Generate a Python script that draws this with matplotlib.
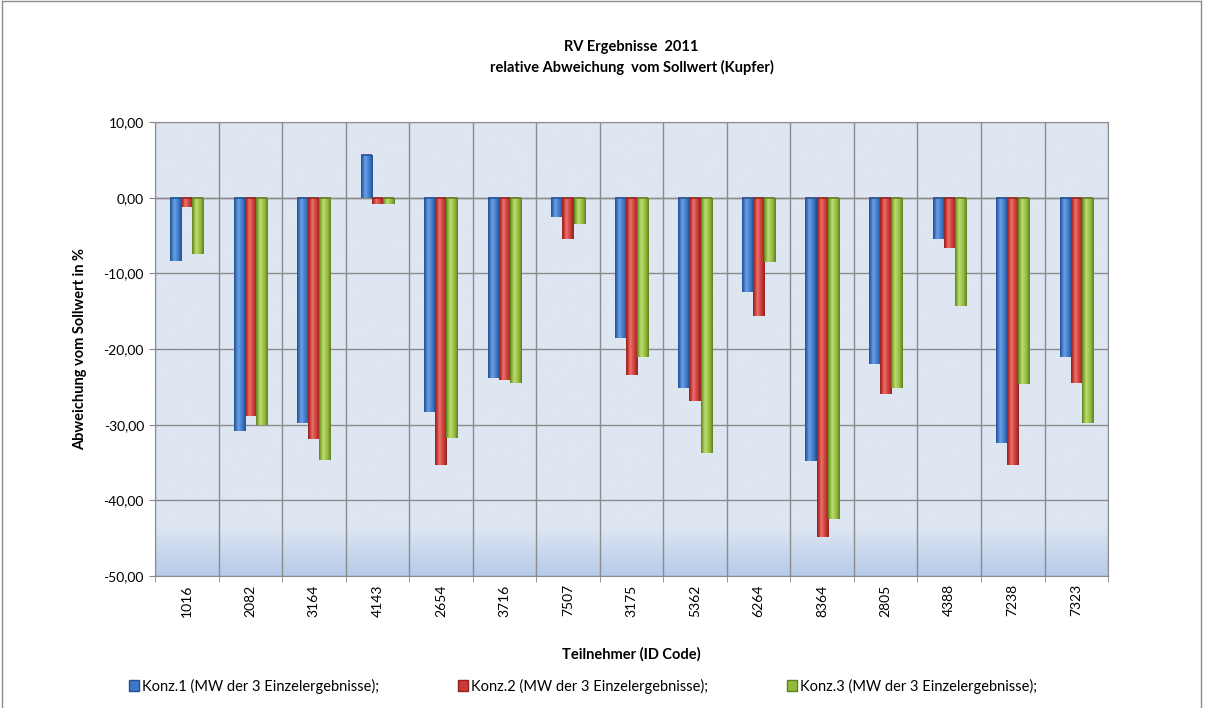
import numpy as np
import matplotlib
matplotlib.use("Agg")
import matplotlib.pyplot as plt
from matplotlib.colors import LinearSegmentedColormap
from matplotlib.lines import Line2D
from matplotlib.patches import Patch

plt.rcParams['font.family'] = ['Lato', 'DejaVu Sans']

# data
teilnehmer = ['1016', '2082', '3164', '4143', '2654', '3716', '7507', '3175',
              '5362', '6264', '8364', '2805', '4388', '7238', '7323']
konz1 = [-8.4, -30.9, -29.8, 5.6, -28.3, -23.8, -2.6, -18.5,
         -25.1, -12.5, -34.8, -22.0, -5.4, -32.4, -21.1]
konz2 = [-1.3, -28.8, -31.9, -0.9, -35.3, -24.1, -5.5, -23.4,
         -26.9, -15.6, -44.9, -26.0, -6.7, -35.3, -24.5]
konz3 = [-7.5, -30.1, -34.7, -0.9, -31.7, -24.5, -3.5, -21.1,
         -33.7, -8.5, -42.5, -25.1, -14.3, -24.6, -29.8]
series_labels = ['Konz.1 (MW der 3 Einzelergebnisse);',
                 'Konz.2 (MW der 3 Einzelergebnisse);',
                 'Konz.3 (MW der 3 Einzelergebnisse);']
# (dark, mid, light) for the cylinder look
colors = [('#24508f', '#3c78c8', '#6a9ee0'),
          ('#8e2320', '#cc3a35', '#e8706a'),
          ('#5f7f24', '#92bb3c', '#bcd970')]

fig = plt.figure(figsize=(12.09, 7.08), dpi=100)
ax = fig.add_axes([0.1282, 0.1864, 0.7883, 0.6413])

n = len(teilnehmer)
x = np.arange(n)
w = 0.175
ymin, ymax = -50, 10

# plot area background with the gradient at the bottom
grad = np.ones((200, 1))
yy = np.linspace(ymax, ymin, 200)
grad[:, 0] = np.clip((yy + 43.5) / -6.5, 0, 1)
bg = LinearSegmentedColormap.from_list('bg', ['#dee6f2', '#b7cbea'])
ax.imshow(grad, cmap=bg, aspect='auto', extent=(-0.5, n - 0.5, ymin, ymax),
          zorder=0, interpolation='bilinear')

shade = np.concatenate([np.linspace(0.0, 1.0, 12), np.linspace(1.0, 0.55, 10),
                        np.linspace(0.55, 0.0, 10)])[None, :]
for i, (vals, col) in enumerate(zip([konz1, konz2, konz3], colors)):
    cmap = LinearSegmentedColormap.from_list('c%d' % i, list(col))
    bars = ax.bar(x + (i - 1) * w, vals, w, color=col[1], zorder=2,
                  edgecolor='none')
    for b in bars:
        x0, y0 = b.get_x(), b.get_y()
        im = ax.imshow(shade, cmap=cmap, aspect='auto', zorder=3,
                       extent=(x0, x0 + b.get_width(), y0, y0 + b.get_height()),
                       interpolation='bilinear')
        im.set_clip_path(b)
        # bar end cap
        yend = y0 + b.get_height() if b.get_height() >= 0 else y0
        ax.plot([x0, x0 + b.get_width()], [yend, yend], color=col[0],
                lw=1.2, zorder=4, solid_capstyle='butt')

ax.set_xlim(-0.5, n - 0.5)
ax.set_ylim(ymin, ymax)
ax.set_yticks(np.arange(ymin, ymax + 1, 10))
ax.set_yticklabels(['%.2f' % v for v in np.arange(ymin, ymax + 1, 10)])
ax.set_yticklabels([t.get_text().replace('.', ',') for t in ax.get_yticklabels()])
ax.set_xticks(x)
ax.set_xticklabels(teilnehmer, rotation=90)
ax.set_xticks(np.arange(-0.5, n, 1), minor=True)
ax.tick_params(axis='x', which='major', length=0, pad=6, labelsize=10)
ax.tick_params(axis='x', which='minor', length=4, color='#888888')
ax.tick_params(axis='y', length=4, color='#888888', labelsize=10, pad=4)
ax.grid(True, which='minor', axis='x', color='#8c8c8c', lw=1, zorder=1)
ax.grid(True, which='major', axis='y', color='#8c8c8c', lw=1, zorder=1)
ax.set_axisbelow(True)
for s in ax.spines.values():
    s.set_color('#8c8c8c')
ax.axhline(0, color='#8c8c8c', lw=1, zorder=1)

ax.set_title('RV Ergebnisse  2011\nrelative Abweichung  vom Sollwert (Kupfer)',
             fontsize=10.5, fontweight='bold', pad=36, linespacing=1.5)
ax.set_xlabel('Teilnehmer (ID Code)', fontsize=10.5, fontweight='bold', labelpad=22)
ax.set_ylabel('Abweichung vom Sollwert in %', fontsize=10.5, fontweight='bold',
              labelpad=12)

handles = [Patch(facecolor=c[1], edgecolor=c[0]) for c in colors]
fig.legend(handles, series_labels, loc='center', bbox_to_anchor=(0.482, 0.031),
           ncol=3, frameon=False, fontsize=10.5, handlelength=0.7,
           handleheight=0.7, handletextpad=0.2, columnspacing=5.4)

# outer chart border
for xs, ys in [([0.002, 0.002], [0.0, 0.999]), ([0.002, 0.993], [0.999, 0.999]),
               ([0.993, 0.993], [0.0, 0.999])]:
    fig.add_artist(Line2D(xs, ys, color='#8c8c8c', lw=1, transform=fig.transFigure))

fig.savefig('out.png', dpi=100)
